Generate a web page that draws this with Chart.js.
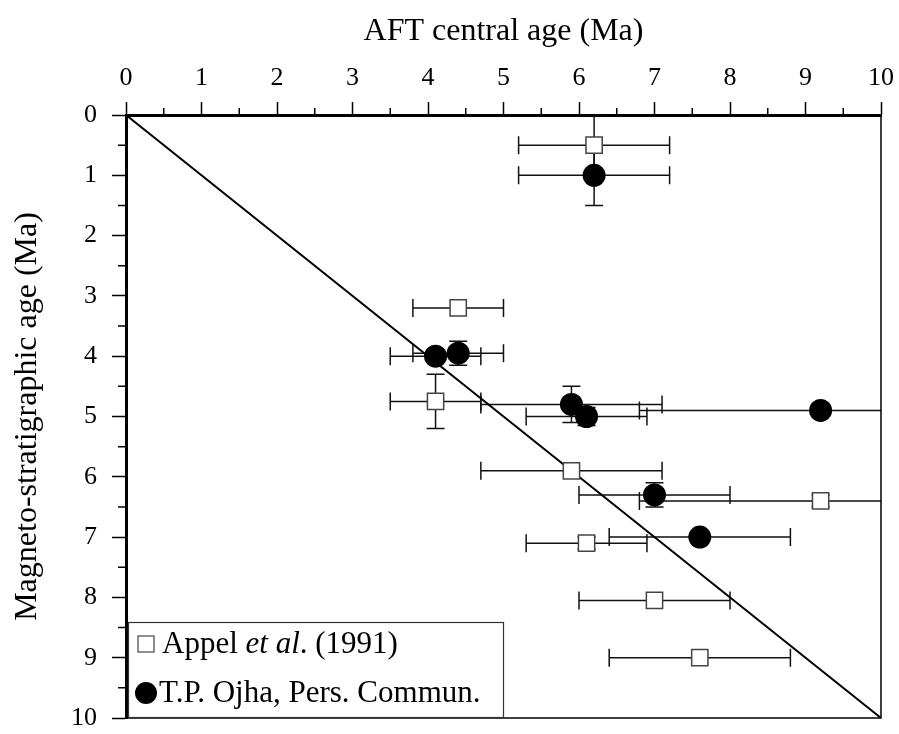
<!DOCTYPE html>
<html>
<head>
<meta charset="utf-8">
<script src="https://cdn.jsdelivr.net/npm/chart.js@4.4.1/dist/chart.umd.min.js"></script>
<style>
  html, body { margin: 0; padding: 0; background: #fff; }
  #wrap { width: 899px; height: 734px; position: relative; }
</style>
</head>
<body>
<div id="wrap"><canvas id="c" width="899" height="734"></canvas></div>
<script>
// ---- Data ----
const xTitle = 'AFT central age (Ma)';
const yTitle = 'Magneto-stratigraphic age (Ma)';

const appelX    = [6.2, 4.4, 4.1, 5.9, 9.2, 6.1, 7.0, 7.6];
const appelY    = [0.5, 3.2, 4.75, 5.9, 6.4, 7.1, 8.05, 9.0];
const appelXErr = [1.0, 0.6, 0.6, 1.2, 2.4, 0.8, 1.0, 1.2];
const appelYErr = [0.5, 0, 0.45, 0, 0.1, 0.1, 0, 0];

const ojhaX    = [6.2, 4.1, 4.4, 5.9, 6.1, 9.2, 7.0, 7.6];
const ojhaY    = [1.0, 4.0, 3.95, 4.8, 5.0, 4.9, 6.3, 7.0];
const ojhaXErr = [1.0, 0.6, 0.6, 1.2, 0.8, 2.4, 1.0, 1.2];
const ojhaYErr = [0.5, 0.1, 0.2, 0.3, 0.15, 0, 0.2, 0];

const lineX = [0, 10];
const lineY = [0, 10];

const FONT = '"Liberation Serif", "Times New Roman", Times, serif';

function pts(xs, ys) { return xs.map((x, i) => ({ x: x, y: ys[i] })); }

function noOverflow(s) {
  s.paddingLeft = 0; s.paddingRight = 0; s.paddingTop = 0; s.paddingBottom = 0;
}

// Error bars drawn through the chart's scales
const errorBars = {
  id: 'errorBars',
  beforeDatasetsDraw(chart) {
    const { ctx, chartArea, scales } = chart;
    const xs = scales.x, ys = scales.y;
    ctx.save();
    ctx.beginPath();
    ctx.rect(chartArea.left, chartArea.top, chartArea.right - chartArea.left, chartArea.bottom - chartArea.top);
    ctx.clip();
    ctx.strokeStyle = '#111';
    ctx.lineWidth = 1.5;
    const cap = 9;
    chart.data.datasets.forEach(ds => {
      if (!ds.xErr) return;
      ds.data.forEach((p, i) => {
        const cx = xs.getPixelForValue(p.x), cy = ys.getPixelForValue(p.y);
        const ex = ds.xErr[i], ey = ds.yErr[i];
        if (ex > 0) {
          const x1 = xs.getPixelForValue(p.x - ex), x2 = xs.getPixelForValue(p.x + ex);
          ctx.beginPath();
          ctx.moveTo(x1, cy); ctx.lineTo(x2, cy);
          ctx.moveTo(x1, cy - cap); ctx.lineTo(x1, cy + cap);
          ctx.moveTo(x2, cy - cap); ctx.lineTo(x2, cy + cap);
          ctx.stroke();
        }
        if (ey > 0) {
          const y1 = ys.getPixelForValue(p.y - ey), y2 = ys.getPixelForValue(p.y + ey);
          ctx.beginPath();
          ctx.moveTo(cx, y1); ctx.lineTo(cx, y2);
          ctx.moveTo(cx - cap, y1); ctx.lineTo(cx + cap, y1);
          ctx.moveTo(cx - cap, y2); ctx.lineTo(cx + cap, y2);
          ctx.stroke();
        }
      });
    });
    ctx.restore();
  }
};

// Minor ticks, right/bottom frame, legend box
const frame = {
  id: 'frame',
  afterDraw(chart) {
    const { ctx, chartArea, scales } = chart;
    const xs = scales.x, ys = scales.y;
    ctx.save();
    ctx.strokeStyle = '#000';
    // right & bottom frame
    ctx.lineWidth = 1.5;
    ctx.beginPath();
    ctx.moveTo(chartArea.right, chartArea.top);
    ctx.lineTo(chartArea.right, chartArea.bottom);
    ctx.lineTo(chartArea.left, chartArea.bottom);
    ctx.stroke();
    // minor ticks
    ctx.lineWidth = 1.5;
    ctx.beginPath();
    for (let v = 0.5; v < 10; v += 1) {
      const px = xs.getPixelForValue(v);
      ctx.moveTo(px, chartArea.top); ctx.lineTo(px, chartArea.top - 7);
      const py = ys.getPixelForValue(v);
      ctx.moveTo(chartArea.left, py); ctx.lineTo(chartArea.left - 8, py);
    }
    ctx.stroke();

    // legend
    const L = chartArea.left + 2, B = chartArea.bottom, W = 376, H = 96;
    const T = B - H;
    ctx.fillStyle = '#fff';
    ctx.fillRect(L, T, W, H);
    ctx.lineWidth = 1.2;
    ctx.strokeStyle = '#333';
    ctx.strokeRect(L + 0.5, T + 0.5, W - 1, H - 1);

    // row 1 marker: open square
    const r1 = T + 22, r2 = T + 71;
    ctx.fillStyle = '#fff';
    ctx.strokeStyle = '#444';
    ctx.lineWidth = 1.2;
    ctx.fillRect(L + 10, r1 - 8, 16, 16);
    ctx.strokeRect(L + 10, r1 - 8, 16, 16);
    // row 2 marker: filled circle
    ctx.fillStyle = '#000';
    ctx.beginPath();
    ctx.arc(L + 18, r2, 11, 0, Math.PI * 2);
    ctx.fill();

    ctx.fillStyle = '#000';
    ctx.textBaseline = 'middle';
    ctx.textAlign = 'left';
    let x = L + 34;
    const parts = [['Appel ', 'normal'], ['et al', 'italic'], ['. (1991)', 'normal']];
    parts.forEach(([t, st]) => {
      ctx.font = st + ' 31px ' + FONT;
      ctx.fillText(t, x, r1 + 1);
      x += ctx.measureText(t).width;
    });
    ctx.font = 'normal 31px ' + FONT;
    ctx.fillText('T.P. Ojha, Pers. Commun.', L + 31, r2 + 1);
    ctx.restore();
  }
};

new Chart(document.getElementById('c'), {
  type: 'scatter',
  data: {
    datasets: [
      {
        type: 'line',
        label: 'identity',
        data: pts(lineX, lineY),
        borderColor: '#000',
        borderWidth: 2,
        pointRadius: 0,
        fill: false,
        order: 3
      },
      {
        label: 'Appel et al. (1991)',
        data: pts(appelX, appelY),
        xErr: appelXErr,
        yErr: appelYErr,
        pointStyle: 'rect',
        pointRadius: 11.5,
        backgroundColor: '#fff',
        borderColor: '#444',
        borderWidth: 1.5,
        order: 2
      },
      {
        label: 'T.P. Ojha, Pers. Commun.',
        data: pts(ojhaX, ojhaY),
        xErr: ojhaXErr,
        yErr: ojhaYErr,
        pointStyle: 'circle',
        pointRadius: 11.5,
        backgroundColor: '#000',
        borderColor: '#000',
        borderWidth: 0,
        order: 1
      }
    ]
  },
  options: {
    responsive: false,
    animation: false,
    events: [],
    layout: { padding: { top: 0, left: 0, right: 18, bottom: 16 } },
    plugins: { legend: { display: false }, tooltip: { enabled: false } },
    scales: {
      x: {
        type: 'linear',
        position: 'top',
        min: 0, max: 10,
        afterFit(s) { s.height = 115; noOverflow(s); },
        ticks: { stepSize: 1, color: '#000', padding: 8, font: { family: FONT, size: 26 } },
        grid: { drawOnChartArea: false, drawTicks: true, tickLength: 13, tickWidth: 1.5, tickColor: '#000' },
        border: { display: true, color: '#000', width: 3 },
        title: { display: true, text: xTitle, color: '#000', padding: { top: 12 }, font: { family: FONT, size: 32 } }
      },
      y: {
        type: 'linear',
        position: 'left',
        reverse: true,
        min: 0, max: 10,
        afterFit(s) { s.width = 126; noOverflow(s); },
        ticks: { stepSize: 1, color: '#000', padding: 15, font: { family: FONT, size: 26 } },
        grid: { drawOnChartArea: false, drawTicks: true, tickLength: 14, tickWidth: 1.5, tickColor: '#000' },
        border: { display: true, color: '#000', width: 3 },
        title: { display: true, text: yTitle, color: '#000', padding: { top: 8 }, font: { family: FONT, size: 32 } }
      }
    }
  },
  plugins: [errorBars, frame]
});
</script>
</body>
</html>
